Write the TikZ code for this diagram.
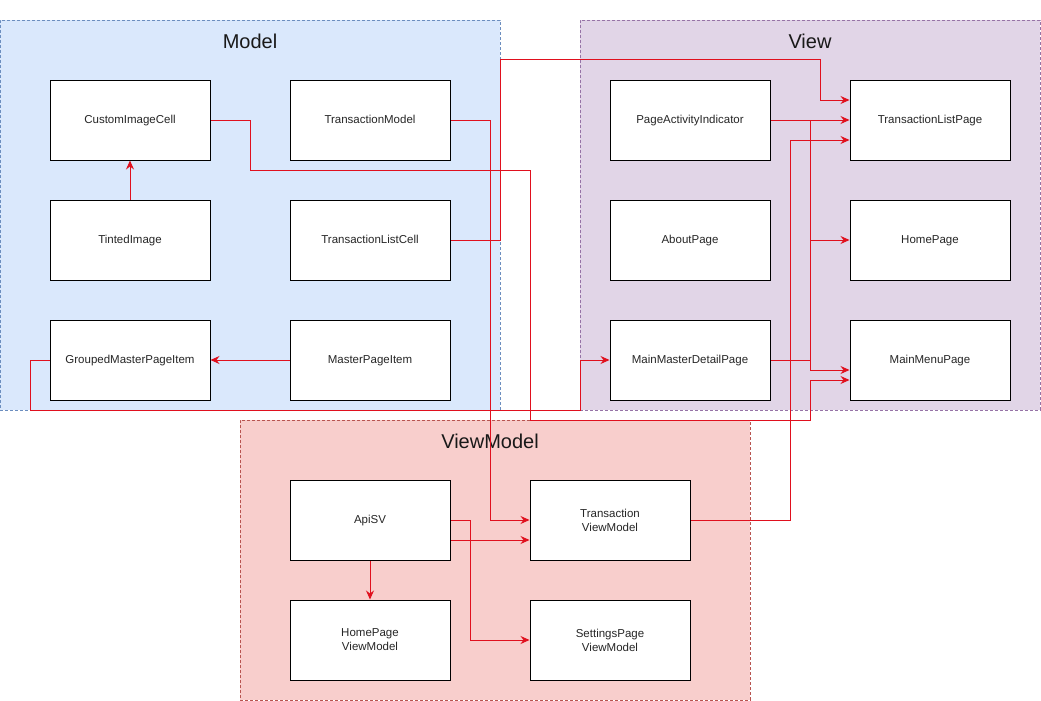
\documentclass[tikz,border=0pt]{standalone}
\usepackage{fontspec}
\setmainfont{Liberation Sans}
\usetikzlibrary{arrows.meta,calc}
\definecolor{mfill}{HTML}{DAE8FC}
\definecolor{mstroke}{HTML}{6C8EBF}
\definecolor{vfill}{HTML}{E1D5E7}
\definecolor{vstroke}{HTML}{9673A6}
\definecolor{vmfill}{HTML}{F8CECC}
\definecolor{vmstroke}{HTML}{B85450}
\definecolor{edgered}{HTML}{E0101E}
\begin{document}
\begin{tikzpicture}[x=1pt,y=-1pt,
  grp/.style={draw, dashed, dash pattern=on 3pt off 2pt, line width=0.6pt, minimum width=#1, inner sep=0pt},
  title/.style={font=\fontsize{20}{24}\selectfont, text=black!90},
  box/.style={draw=black, line width=1pt, fill=white, minimum width=160pt, minimum height=80pt, inner sep=0pt, align=center, font=\fontsize{11.5}{14}\selectfont, text=black!85},
  box1/.style={box, text height=8.5pt, text depth=2.5pt},
  edge/.style={draw=edgered, line width=1pt, -{Stealth[length=9pt,width=8pt,inset=3pt]}},
  redline/.style={draw=edgered, line width=1pt}
]
\useasboundingbox (0,0) rectangle (1041,701);
% groups
\node[grp=500pt, fill=mfill, draw=mstroke, minimum height=390pt] (gm) at (250,215) {};
\node[grp=460pt, fill=vfill, draw=vstroke, minimum height=390pt] (gv) at (810,215) {};
\node[grp=510pt, fill=vmfill, draw=vmstroke, minimum height=280pt] (gvm) at (495,560) {};
\node[title] (tm) at (250,41) {Model};
\node[title] (tv) at (810,41) {View};
\node[title] (tvmt) at (490,441) {ViewModel};
% boxes
\node[box1] (cic) at (130,120) {CustomImageCell};
\node[box1] (tmod) at (370,120) {TransactionModel};
\node[box1] (ti) at (130,240) {TintedImage};
\node[box1] (tlc) at (370,240) {TransactionListCell};
\node[box1] (gmpi) at (130,360) {GroupedMasterPageItem};
\node[box1] (mpi) at (370,360) {MasterPageItem};
\node[box1] (pai) at (690,120) {PageActivityIndicator};
\node[box1] (ap) at (690,240) {AboutPage};
\node[box1] (mmdp) at (690,360) {MainMasterDetailPage};
\node[box1] (tlp) at (930,120) {TransactionListPage};
\node[box1] (hp) at (930,240) {HomePage};
\node[box1] (mmp) at (930,360) {MainMenuPage};
\node[box1] (api) at (370,520) {ApiSV};
\node[box] (tvm) at (610,520) {Transaction\\ViewModel};
\node[box] (hpvm) at (370,640) {HomePage\\ViewModel};
\node[box] (spvm) at (610,640) {SettingsPage\\ViewModel};
% edges
\draw[edge] (ti.north) -- (cic.south);
\draw[edge] (mpi.west) -- (gmpi.east);
\draw[edge] (gmpi.west) -- (30,360) -- (30,410) -- (580,410) -- (580,360) -- (mmdp.west);
\draw[edge] (cic.east) -- (250,120) -- (250,170) -- (530,170) -- (530,420) -- (810,420) -- (810,380) -- ($(mmp.west)+(0,20)$);
\draw[edge] (tmod.east) -- (490,120) -- (490,520) -- (tvm.west);
\draw[edge] (tlc.east) -- (500,240) -- (500,60) -- (820,60) -- (820,100) -- ($(tlp.west)+(0,-20)$);
\draw[edge] (pai.east) -- (tlp.west);
\draw[edge] (pai.east) -- (810,120) -- (810,240) -- (hp.west);
\draw[edge] (pai.east) -- (810,120) -- (810,370) -- ($(mmp.west)+(0,10)$);
\draw[redline] (mmdp.east) -- (810,360);
\draw[edge] (tvm.east) -- (790,520) -- (790,140) -- ($(tlp.west)+(0,20)$);
\draw[edge] (api.east) -- (470,520) -- (470,640) -- (spvm.west);
\draw[edge] ($(api.east)+(0,20)$) -- ($(tvm.west)+(0,20)$);
\draw[edge] (api.south) -- (hpvm.north);
\end{tikzpicture}
\end{document}
